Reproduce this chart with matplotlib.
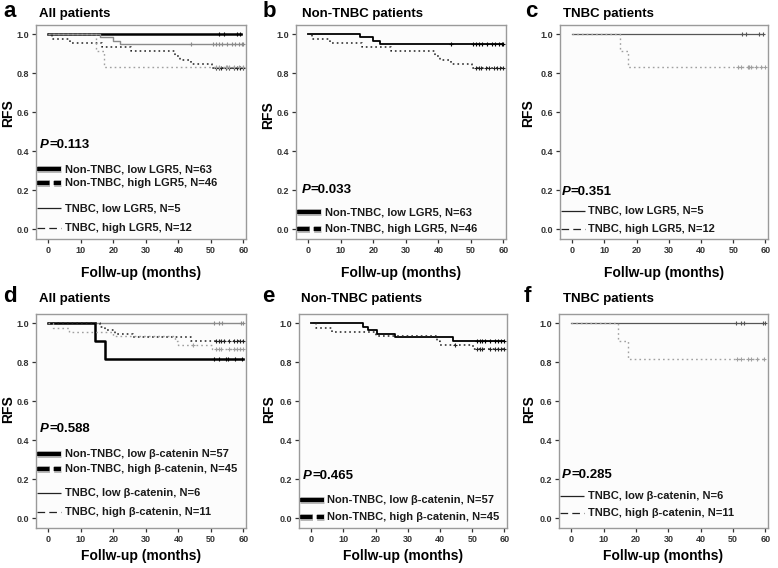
import matplotlib
matplotlib.use('Agg')
import matplotlib.pyplot as plt

plt.rcParams['font.family'] = ['Liberation Sans', 'DejaVu Sans']
plt.rcParams['font.weight'] = 'bold'
plt.rcParams['lines.scale_dashes'] = False

W, H = 778, 568

# --- LGR5 (event times, survival after each event, censor times, end of follow-up)
lgr5_ntnbc_low_t = [16, 20, 22]
lgr5_ntnbc_low_s = [0.984, 0.968, 0.952]
lgr5_ntnbc_low_c = [44, 50.5, 51.5, 52.5, 53.5, 55, 56.5, 57.5, 58.5, 59.5, 60]
lgr5_ntnbc_low_end = 60

lgr5_ntnbc_high_t = [1, 6.7, 16.5, 25.5, 39, 40.5, 43.8, 50.3]
lgr5_ntnbc_high_s = [0.978, 0.957, 0.935, 0.913, 0.891, 0.870, 0.848, 0.826]
lgr5_ntnbc_high_c = [51.5, 52.5, 53, 54.5, 55.5, 57, 58, 59, 60]
lgr5_ntnbc_high_end = 60

lgr5_tnbc_low_t = []
lgr5_tnbc_low_s = []
lgr5_tnbc_low_c = [52.6, 53.9, 58.1, 59.1]
lgr5_tnbc_low_end = 59.3

lgr5_tnbc_high_t = [14.8, 17.2]
lgr5_tnbc_high_s = [0.917, 0.833]
lgr5_tnbc_high_c = [51.5, 52.5, 54.5, 55, 55.5, 57, 58.5, 60]
lgr5_tnbc_high_end = 60

# --- beta-catenin
bcat_ntnbc_low_t = [16, 17.5, 20.5, 26, 44]
bcat_ntnbc_low_s = [0.982, 0.965, 0.947, 0.930, 0.912]
bcat_ntnbc_low_c = [51.5, 52.5, 53, 54, 55.5, 57, 58, 59, 60]
bcat_ntnbc_low_end = 60

bcat_ntnbc_high_t = [1.5, 6.5, 20, 39, 40, 50.3]
bcat_ntnbc_high_s = [0.978, 0.956, 0.933, 0.911, 0.889, 0.867]
bcat_ntnbc_high_c = [44.5, 51.5, 52.5, 53, 55.5, 57, 58, 59, 60]
bcat_ntnbc_high_end = 60

bcat_tnbc_low_t = []
bcat_tnbc_low_s = []
bcat_tnbc_low_c = [51, 52.5, 53.5, 59.3, 60]
bcat_tnbc_low_end = 60

bcat_tnbc_high_t = [14.4, 17.4]
bcat_tnbc_high_s = [0.909, 0.818]
bcat_tnbc_high_c = [51.1, 52.5, 54.7, 55.4, 57.4, 59.5]
bcat_tnbc_high_end = 60

p_values = ['0.113', '0.033', '0.351', '0.588', '0.465', '0.285']
panel_letters = ['a', 'b', 'c', 'd', 'e', 'f']
panel_titles = ['All patients', 'Non-TNBC patients', 'TNBC patients',
                'All patients', 'Non-TNBC patients', 'TNBC patients']

lgr5_labels = ['Non-TNBC, low LGR5, N=63', 'Non-TNBC, high LGR5, N=46',
               'TNBC, low LGR5, N=5', 'TNBC, high LGR5, N=12']
bcat_labels = ['Non-TNBC, low \u03b2-catenin N=57', 'Non-TNBC, high \u03b2-catenin, N=45',
               'TNBC, low \u03b2-catenin, N=6', 'TNBC, high \u03b2-catenin, N=11']
bcat_labels_e = ['Non-TNBC, low \u03b2-catenin, N=57', 'Non-TNBC, high \u03b2-catenin, N=45']

# line styles
thick = dict(color='black', lw=1.8)
mid = dict(color='black', lw=1.3)
thin_grey = dict(color='#8a8a8a', lw=1.0)
thin_dark = dict(color='#555555', lw=0.9)
dot_black = dict(color='#222222', lw=1.1, ls=(0, (1.2, 2.2)))
dot_grey = dict(color='#a0a0a0', lw=1.0, ls=(0, (1.2, 2.2)))

# legend handle styles
h_thick = [dict(color='#9a9a9a', lw=5.0, alpha=0.7), dict(color='black', lw=3.0)]
h_thick_dash = [dict(color='#9a9a9a', lw=5.0, alpha=0.7, dashes=(9, 3)),
                dict(color='black', lw=3.0, dashes=(9, 3))]
h_thin = [dict(color='#222222', lw=0.9)]
h_thin_dash = [dict(color='#222222', lw=0.9, dashes=(5.5, 3))]


def km(ax, t, s, cens, end, style):
    times = [0] + list(t) + [end]
    surv = [1.0] + list(s) + [s[-1] if s else 1.0]
    ax.step(times, surv, where='post', **style)
    levels = []
    for c in cens:
        lev = 1.0
        for ti, si in zip(t, s):
            if c >= ti:
                lev = si
        levels.append(lev)
    ax.plot(cens, levels, ls='none', marker='+', ms=3.5, mew=0.8,
            color=style['color'])


fig = plt.figure(figsize=(W / 100, H / 100), dpi=100)

# axes boxes in pixels: left, top, right, bottom
boxes = [(36, 25, 246, 239), (296, 25, 506, 239), (560, 25, 768, 239),
         (36, 314, 246, 528), (299, 314, 507, 528), (559, 314, 768, 528)]
letter_x = [3, 263, 525, 3, 262, 524]
title_x = [39, 302, 563, 39, 301, 563]
title_y = [17, 17, 17, 302, 302, 302]
rfs_x = [8.5, 268, 528, 8.5, 269, 529]
rfs_y = [113, 115, 113, 409, 409, 409]
xlab_y = [273, 273, 273, 556, 556, 556]

axes = []
for (l, t, r, b) in boxes:
    ax = fig.add_axes([l / W, 1 - b / H, (r - l) / W, (b - t) / H])
    axes.append(ax)

# a: all patients, LGR5
ax = axes[0]
km(ax, lgr5_tnbc_low_t, lgr5_tnbc_low_s, lgr5_tnbc_low_c, lgr5_tnbc_low_end, thick)
km(ax, lgr5_ntnbc_low_t, lgr5_ntnbc_low_s, lgr5_ntnbc_low_c, lgr5_ntnbc_low_end, thin_grey)
km(ax, lgr5_ntnbc_high_t, lgr5_ntnbc_high_s, lgr5_ntnbc_high_c, lgr5_ntnbc_high_end, dot_black)
km(ax, lgr5_tnbc_high_t, lgr5_tnbc_high_s, lgr5_tnbc_high_c, lgr5_tnbc_high_end, dot_grey)

# b: non-TNBC, LGR5
ax = axes[1]
km(ax, lgr5_ntnbc_low_t, lgr5_ntnbc_low_s, lgr5_ntnbc_low_c, lgr5_ntnbc_low_end, mid)
km(ax, lgr5_ntnbc_high_t, lgr5_ntnbc_high_s, lgr5_ntnbc_high_c, lgr5_ntnbc_high_end, dot_black)

# c: TNBC, LGR5
ax = axes[2]
km(ax, lgr5_tnbc_low_t, lgr5_tnbc_low_s, lgr5_tnbc_low_c, lgr5_tnbc_low_end, thin_dark)
km(ax, lgr5_tnbc_high_t, lgr5_tnbc_high_s, lgr5_tnbc_high_c, lgr5_tnbc_high_end, dot_grey)

# d: all patients, beta-catenin
ax = axes[3]
km(ax, bcat_tnbc_low_t, bcat_tnbc_low_s, bcat_tnbc_low_c, bcat_tnbc_low_end, thin_grey)
km(ax, bcat_tnbc_high_t, bcat_tnbc_high_s, bcat_tnbc_high_c, bcat_tnbc_high_end, thick)
km(ax, bcat_ntnbc_low_t, bcat_ntnbc_low_s, bcat_ntnbc_low_c, bcat_ntnbc_low_end, dot_black)
km(ax, bcat_ntnbc_high_t, bcat_ntnbc_high_s, bcat_ntnbc_high_c, bcat_ntnbc_high_end, dot_grey)

# e: non-TNBC, beta-catenin
ax = axes[4]
km(ax, bcat_ntnbc_low_t, bcat_ntnbc_low_s, bcat_ntnbc_low_c, bcat_ntnbc_low_end, mid)
km(ax, bcat_ntnbc_high_t, bcat_ntnbc_high_s, bcat_ntnbc_high_c, bcat_ntnbc_high_end, dot_black)

# f: TNBC, beta-catenin
ax = axes[5]
km(ax, bcat_tnbc_low_t, bcat_tnbc_low_s, bcat_tnbc_low_c, bcat_tnbc_low_end, thin_dark)
km(ax, bcat_tnbc_high_t, bcat_tnbc_high_s, bcat_tnbc_high_c, bcat_tnbc_high_end, dot_grey)

# legends (label, handle, y in data units)
legends = [
    list(zip(lgr5_labels, [h_thick, h_thick_dash, h_thin, h_thin_dash], [0.308, 0.235, 0.108, 0.005])),
    list(zip(lgr5_labels[:2], [h_thick, h_thick_dash], [0.088, 0.0])),
    list(zip(lgr5_labels[2:], [h_thin, h_thin_dash], [0.095, 0.0])),
    list(zip(bcat_labels, [h_thick, h_thick_dash, h_thin, h_thin_dash], [0.331, 0.254, 0.130, 0.031])),
    list(zip(bcat_labels_e, [h_thick, h_thick_dash], [0.094, 0.005])),
    list(zip(bcat_labels[2:], [h_thin, h_thin_dash], [0.113, 0.027])),
]
p_y = [0.43, 0.2, 0.19, 0.456, 0.216, 0.223]
p_x = [0.02, 0.027, 0.008, 0.02, 0.02, 0.015]

for i, ax in enumerate(axes):
    ax.set_xlim(-3.8, 60.8)
    ax.set_ylim(-0.05, 1.048)
    ax.set_facecolor('#fcfcfc')
    ax.set_xticks(range(0, 61, 10))
    ax.set_yticks([0.0, 0.2, 0.4, 0.6, 0.8, 1.0])
    ax.set_yticklabels(['0.0', '0.2', '0.4', '0.6', '0.8', '1.0'])
    ax.tick_params(direction='out', length=3, width=0.9, colors='#333333',
                   labelsize=6.5, pad=2)
    for sp in ax.spines.values():
        sp.set_color('#9a9a9a')
        sp.set_linewidth(1.0)

    trans = ax.get_yaxis_transform()
    for label, handle, yv in legends[i]:
        for st in handle:
            ax.plot([0.005, 0.12], [yv, yv], transform=trans,
                    solid_capstyle='butt', dash_capstyle='butt', **st)
        ax.text(0.137, yv, label, transform=trans, fontsize=8, fontweight='bold',
                color='#1a1a1a', va='center', ha='left')

    pt = ax.text(p_x[i], p_y[i], 'P', transform=trans, fontsize=9.5,
                 fontweight='bold', style='italic', va='center', ha='left')
    ax.annotate('=' + p_values[i], xy=(1, 0), xycoords=pt, fontsize=9.5,
                fontweight='bold', va='bottom', ha='left')

    l, t, r, b = boxes[i]
    fig.text(letter_x[i] / W, 1 - title_y[i] / H, panel_letters[i], fontsize=16,
             fontweight='bold', va='baseline', ha='left')
    fig.text(title_x[i] / W, 1 - title_y[i] / H, panel_titles[i], fontsize=9.5,
             fontweight='bold', va='baseline', ha='left')
    fig.text(rfs_x[i] / W, 1 - rfs_y[i] / H, 'RFS', fontsize=10, fontweight='bold',
             rotation=90, va='center', ha='center')
    fig.text((l + r) / 2 / W, 1 - xlab_y[i] / H, 'Follw-up (months)', fontsize=10,
             fontweight='bold', va='center', ha='center')

fig.savefig('out.png', dpi=100)
